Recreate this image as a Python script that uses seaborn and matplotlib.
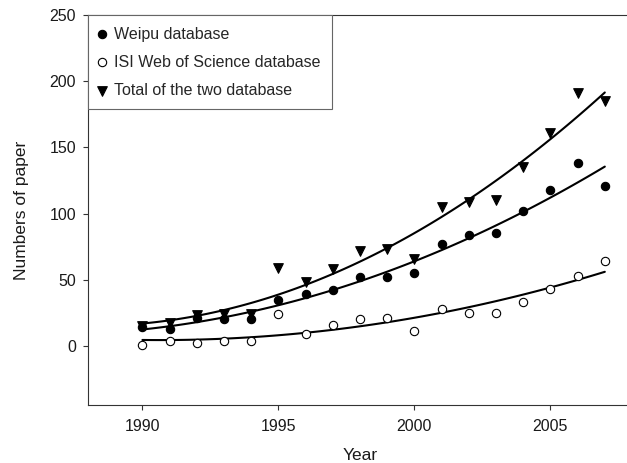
import numpy as np
import pandas as pd
import seaborn as sns
import matplotlib.pyplot as plt

# values
years = list(range(1990, 2008))
weipu = [14, 13, 21, 20, 20, 35, 39, 42, 52, 52, 55, 77, 84, 85, 102, 118, 138, 121]
isi = [1, 4, 2, 4, 4, 24, 9, 16, 20, 21, 11, 28, 25, 25, 33, 43, 53, 64]
total = [15, 17, 23, 24, 24, 59, 48, 58, 72, 73, 66, 105, 109, 110, 135, 161, 191, 185]

labels = ["Weipu database", "ISI Web of Science database", "Total of the two database"]

df = pd.DataFrame({"year": years, "weipu": weipu, "isi": isi, "total": total})

sns.set_style("ticks")
plt.rcParams['font.family'] = ['Liberation Sans', 'DejaVu Sans']

fig = plt.figure(figsize=(6.27, 4.63), dpi=100)
ax = fig.add_axes([0.1404, 0.1242, 0.8676, 0.8434])

# quadratic trend lines
for col in ["weipu", "isi", "total"]:
    sns.regplot(x="year", y=col, data=df, order=2, ci=None, scatter=False,
                color="black", line_kws={"lw": 1.5}, ax=ax)

sns.scatterplot(x="year", y="weipu", data=df, marker="o", s=36, color="black",
                edgecolor="black", linewidth=0.8, label=labels[0], ax=ax, zorder=3)
sns.scatterplot(x="year", y="isi", data=df, marker="o", s=36, facecolor="white",
                edgecolor="black", linewidth=0.8, label=labels[1], ax=ax, zorder=3)
sns.scatterplot(x="year", y="total", data=df, marker="v", s=48, color="black",
                edgecolor="black", linewidth=0.8, label=labels[2], ax=ax, zorder=3)

ax.set_xlim(1988, 2008)
ax.set_ylim(-45, 250)
ax.set_xticks([1990, 1995, 2000, 2005])
ax.set_yticks([0, 50, 100, 150, 200, 250])
ax.tick_params(labelsize=11.5, length=3.6, width=0.8, color="#333333",
               labelcolor="#1a1a1a", direction="out")
ax.tick_params(axis="x", pad=6)
ax.tick_params(axis="y", pad=5)
for s in ax.spines.values():
    s.set_linewidth(0.8)
    s.set_color("#333333")

ax.set_xlabel("Year", fontsize=12.5, labelpad=10, color="#1a1a1a")
ax.set_ylabel("Numbers of paper", fontsize=12.5, labelpad=15, color="#1a1a1a")

leg = ax.legend(loc="upper left", borderaxespad=0, fontsize=11.5, frameon=True,
                fancybox=False, framealpha=1, edgecolor="#666666",
                handletextpad=0.6, labelspacing=0.82, borderpad=0.72,
                handlelength=0.3, markerscale=1.0)
leg.get_frame().set_linewidth(0.8)

fig.savefig("out.png", dpi=100)
